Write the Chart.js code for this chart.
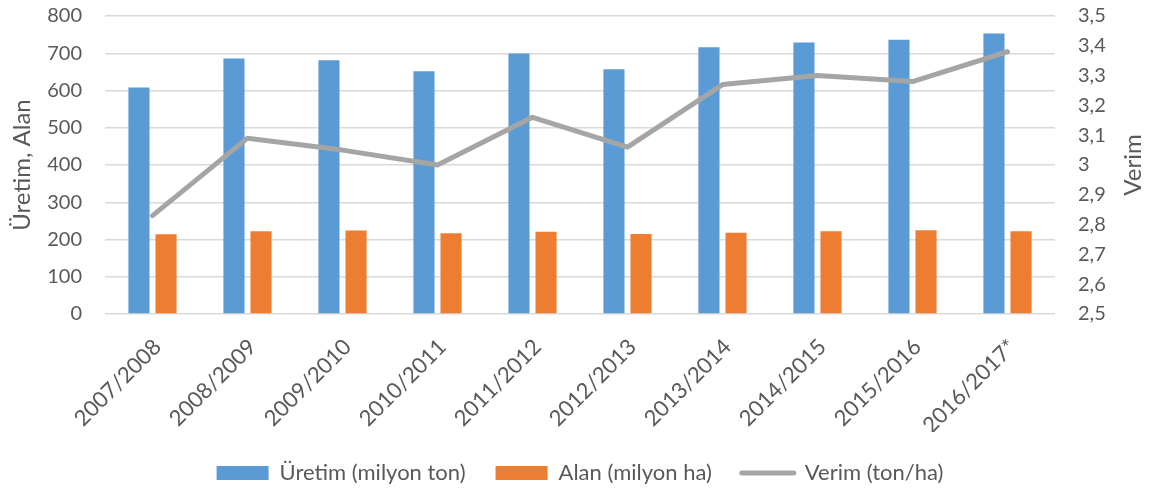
<!DOCTYPE html>
<html>
<head>
<meta charset="utf-8">
<script src="https://cdn.jsdelivr.net/npm/chart.js@4.4.0/dist/chart.umd.min.js"></script>
<style>
  html, body { margin: 0; padding: 0; background: #ffffff; }
  #wrap { width: 1160px; height: 494px; position: relative; }
</style>
</head>
<body>
<div id="wrap"><canvas id="c"></canvas></div>
<script>
// Sezonlar
const seasons = ['2007/2008', '2008/2009', '2009/2010', '2010/2011', '2011/2012',
                 '2012/2013', '2013/2014', '2014/2015', '2015/2016', '2016/2017*'];
// Üretim (milyon ton)
const uretim = [608, 686, 681, 652, 699, 657, 716, 729, 736, 753];
// Alan (milyon ha)
const alan = [214, 222, 224, 217, 221, 215, 218, 222, 225, 222];
// Verim (ton/ha)
const verim = [2.83, 3.09, 3.05, 3.00, 3.16, 3.06, 3.27, 3.30, 3.28, 3.38];

const leftTicks = { min: 0, max: 800, step: 100 };
const rightTicks = { min: 2.5, max: 3.5, step: 0.1 };

const FONT = 'Lato, "Open Sans", sans-serif';
const TEXT = '#595959';

// Right-hand axis title, written bottom-to-top
const rightTitle = {
  id: 'rightTitle',
  afterDraw(chart) {
    const { ctx, chartArea } = chart;
    ctx.save();
    ctx.translate(1133, (chartArea.top + chartArea.bottom) / 2);
    ctx.rotate(-Math.PI / 2);
    ctx.font = '24px ' + FONT;
    ctx.fillStyle = TEXT;
    ctx.textAlign = 'center';
    ctx.textBaseline = 'middle';
    ctx.fillText('Verim', 0, 0);
    ctx.restore();
  }
};

// keep the plot area fixed regardless of tick label overhang
const noPad = s => { s.paddingTop = 0; s.paddingBottom = 0; };

new Chart(document.getElementById('c'), {
  data: {
    labels: seasons,
    datasets: [
      {
        type: 'bar',
        label: 'Üretim (milyon ton)',
        data: uretim,
        backgroundColor: '#5B9BD5',
        yAxisID: 'y',
        barPercentage: 0.78,
        categoryPercentage: 0.57,
        pointStyle: 'rect',
        order: 1
      },
      {
        type: 'bar',
        label: 'Alan (milyon ha)',
        data: alan,
        backgroundColor: '#ED7D31',
        yAxisID: 'y',
        barPercentage: 0.78,
        categoryPercentage: 0.57,
        pointStyle: 'rect',
        order: 1
      },
      {
        type: 'line',
        label: 'Verim (ton/ha)',
        data: verim,
        borderColor: '#A5A5A5',
        backgroundColor: '#A5A5A5',
        borderWidth: 5,
        borderCapStyle: 'round',
        borderJoinStyle: 'round',
        pointRadius: 0,
        pointHoverRadius: 0,
        pointStyle: 'line',
        tension: 0,
        yAxisID: 'y1',
        order: 0
      }
    ]
  },
  options: {
    responsive: true,
    maintainAspectRatio: false,
    animation: false,
    layout: { padding: { top: 16, left: 0, right: 0, bottom: 0 } },
    plugins: {
      tooltip: { enabled: false },
      legend: {
        position: 'bottom',
        labels: {
          usePointStyle: true,
          pointStyleWidth: 52,
          boxHeight: 14,
          padding: 30,
          color: TEXT,
          font: { family: FONT, size: 22 },
          sort: (a, b) => a.datasetIndex - b.datasetIndex,
          generateLabels(chart) {
            const items = Chart.defaults.plugins.legend.labels.generateLabels(chart);
            items.forEach(it => {
              const ds = chart.data.datasets[it.datasetIndex];
              if (ds.type === 'line') {
                it.pointStyle = 'line';
                it.lineWidth = 5;
                it.lineCap = 'round';
                it.strokeStyle = '#A5A5A5';
              } else {
                it.pointStyle = 'rect';
                it.lineWidth = 0;
              }
            });
            return items;
          }
        }
      }
    },
    scales: {
      x: {
        grid: { display: false, drawTicks: false },
        border: { display: false },
        ticks: {
          autoSkip: false,
          minRotation: 45,
          maxRotation: 45,
          padding: 20,
          labelOffset: 5,
          color: TEXT,
          font: { family: FONT, size: 22 }
        },
        afterFit(s) { s.height = 118; s.paddingLeft = 0; s.paddingRight = 0; }
      },
      y: {
        position: 'left',
        min: leftTicks.min,
        max: leftTicks.max,
        grid: { color: '#D9D9D9', lineWidth: 1.5, drawTicks: false },
        border: { display: false },
        ticks: {
          stepSize: leftTicks.step,
          padding: 23,
          color: TEXT,
          font: { family: FONT, size: 20 }
        },
        title: {
          display: true,
          text: 'Üretim, Alan',
          color: TEXT,
          font: { family: FONT, size: 24 },
          padding: { top: 8, bottom: 0 }
        },
        afterFit(s) { s.width = 105; noPad(s); }
      },
      y1: {
        position: 'right',
        min: rightTicks.min,
        max: rightTicks.max,
        grid: { drawOnChartArea: false, drawTicks: false },
        border: { display: false },
        ticks: {
          stepSize: rightTicks.step,
          padding: 23,
          color: TEXT,
          font: { family: FONT, size: 20 },
          callback: v => String(Math.round(v * 10) / 10).replace('.', ',')
        },
        afterFit(s) { s.width = 105; noPad(s); }
      }
    }
  },
  plugins: [rightTitle]
});
</script>
</body>
</html>
